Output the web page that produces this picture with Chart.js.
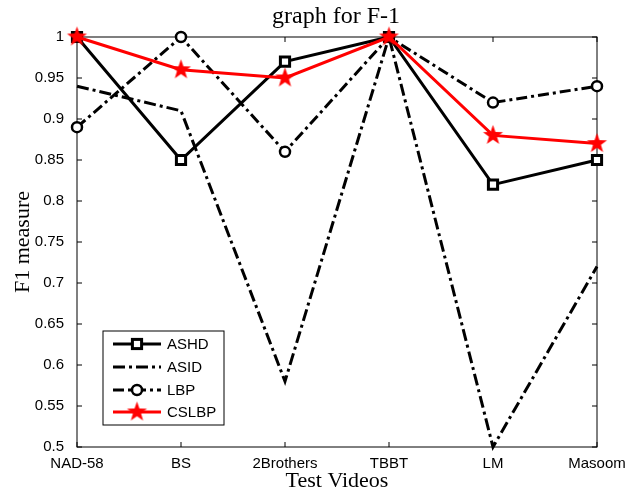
<!DOCTYPE html>
<html>
<head>
<meta charset="utf-8">
<title>graph for F-1</title>
<script src="https://cdn.jsdelivr.net/npm/chart.js@4.4.1/dist/chart.umd.min.js"></script>
<style>
  html, body { margin: 0; padding: 0; background: #fff; }
  #wrap { width: 644px; height: 494px; position: relative; }
</style>
</head>
<body>
<div id="wrap"><canvas id="f1chart"></canvas></div>
<script>
const videos = ['NAD-58', 'BS', '2Brothers', 'TBBT', 'LM', 'Masoom'];
const ashd  = [1.00, 0.85, 0.97, 1.00, 0.82, 0.85];
const asid  = [0.94, 0.91, 0.58, 1.00, 0.50, 0.72];
const lbp   = [0.89, 1.00, 0.86, 1.00, 0.92, 0.94];
const cslbp = [1.00, 0.96, 0.95, 1.00, 0.88, 0.87];
const yTicks = [0.5, 0.55, 0.6, 0.65, 0.7, 0.75, 0.8, 0.85, 0.9, 0.95, 1];

const serif = '"Liberation Serif", "Times New Roman", serif';
const sans = '"Liberation Sans", Arial, sans-serif';

// filled 5 point star, like matlab's pentagram marker
function makeStar(outer, color) {
  const inner = outer * 0.4;
  const size = Math.ceil(outer * 2 + 2);
  const c = document.createElement('canvas');
  c.width = c.height = size;
  const g = c.getContext('2d');
  g.translate(size / 2, size / 2);
  g.beginPath();
  for (let i = 0; i < 10; i++) {
    const r = i % 2 ? inner : outer;
    const a = -Math.PI / 2 + i * Math.PI / 5;
    g.lineTo(r * Math.cos(a), r * Math.sin(a));
  }
  g.closePath();
  g.fillStyle = color;
  g.fill();
  return c;
}
const star = makeStar(10.5, '#ff0000');

function drawMarker(ctx, ds, x, y) {
  if (ds.pointStyle === 'rect') {
    const h = Math.SQRT1_2 * ds.pointRadius;
    ctx.fillStyle = ds.pointBackgroundColor;
    ctx.strokeStyle = ds.pointBorderColor;
    ctx.lineWidth = ds.pointBorderWidth;
    ctx.setLineDash([]);
    ctx.fillRect(x - h, y - h, 2 * h, 2 * h);
    ctx.strokeRect(x - h, y - h, 2 * h, 2 * h);
  } else if (ds.pointStyle === 'circle' && ds.pointRadius > 0) {
    ctx.fillStyle = ds.pointBackgroundColor;
    ctx.strokeStyle = ds.pointBorderColor;
    ctx.lineWidth = ds.pointBorderWidth;
    ctx.setLineDash([]);
    ctx.beginPath();
    ctx.arc(x, y, ds.pointRadius, 0, Math.PI * 2);
    ctx.fill();
    ctx.stroke();
  } else if (ds.pointStyle instanceof HTMLCanvasElement) {
    ctx.drawImage(ds.pointStyle, x - ds.pointStyle.width / 2, y - ds.pointStyle.height / 2);
  }
}

const framePlugin = {
  id: 'frame',
  beforeDatasetsDraw(chart) {
    const { ctx, chartArea: a, scales: { x, y } } = chart;
    ctx.save();
    ctx.strokeStyle = '#000';
    ctx.lineWidth = 1;
    ctx.strokeRect(a.left, a.top, a.right - a.left, a.bottom - a.top);
    // inward tick marks on all four sides
    const tl = 5;
    ctx.beginPath();
    x.ticks.forEach((t, i) => {
      const px = x.getPixelForTick(i);
      ctx.moveTo(px, a.bottom); ctx.lineTo(px, a.bottom - tl);
      ctx.moveTo(px, a.top); ctx.lineTo(px, a.top + tl);
    });
    y.ticks.forEach(t => {
      const py = y.getPixelForValue(t.value);
      ctx.moveTo(a.left, py); ctx.lineTo(a.left + tl, py);
      ctx.moveTo(a.right, py); ctx.lineTo(a.right - tl, py);
    });
    ctx.stroke();
    ctx.restore();
  },
  afterDatasetsDraw(chart) {
    const ctx = chart.ctx;
    ctx.save();
    // title
    ctx.fillStyle = '#000';
    ctx.font = '24px ' + serif;
    ctx.textAlign = 'center';
    ctx.textBaseline = 'alphabetic';
    ctx.fillText('graph for F-1', 336, 23);

    // legend box, bottom left
    const bx = 103, by = 331, bw = 121, bh = 94;
    ctx.fillStyle = '#fff';
    ctx.fillRect(bx, by, bw, bh);
    ctx.strokeStyle = '#000';
    ctx.lineWidth = 1;
    ctx.strokeRect(bx, by, bw, bh);
    const rows = [344, 367, 390, 412];
    chart.data.datasets.forEach((ds, i) => {
      const ry = rows[i];
      ctx.strokeStyle = ds.borderColor;
      ctx.lineWidth = ds.borderWidth;
      ctx.setLineDash(ds.borderDash || []);
      ctx.beginPath();
      ctx.moveTo(113, ry);
      ctx.lineTo(161, ry);
      ctx.stroke();
      drawMarker(ctx, ds, 137, ry);
      ctx.setLineDash([]);
      ctx.fillStyle = '#000';
      ctx.font = '15px ' + sans;
      ctx.textAlign = 'left';
      ctx.textBaseline = 'middle';
      ctx.fillText(ds.label, 167, ry + 1);
    });
    ctx.restore();
  }
};

new Chart(document.getElementById('f1chart'), {
  type: 'line',
  data: {
    labels: videos,
    datasets: [
      {
        label: 'ASHD', data: ashd, order: 1,
        borderColor: '#000', borderWidth: 3,
        pointStyle: 'rect', pointRadius: 6.5, pointBorderWidth: 3,
        pointBorderColor: '#000', pointBackgroundColor: '#fff'
      },
      {
        label: 'ASID', data: asid, order: 3,
        borderColor: '#000', borderWidth: 3, borderDash: [12, 4, 3, 4],
        pointStyle: 'circle', pointRadius: 0
      },
      {
        label: 'LBP', data: lbp, order: 2,
        borderColor: '#000', borderWidth: 3, borderDash: [11, 4, 3, 4],
        pointStyle: 'circle', pointRadius: 5, pointBorderWidth: 2.5,
        pointBorderColor: '#000', pointBackgroundColor: '#fff'
      },
      {
        label: 'CSLBP', data: cslbp, order: 0,
        borderColor: '#ff0000', borderWidth: 3,
        pointStyle: star, pointRadius: 10
      }
    ]
  },
  options: {
    responsive: true,
    maintainAspectRatio: false,
    animation: false,
    events: [],
    clip: false,
    elements: { line: { tension: 0 } },
    layout: { padding: { top: 37, right: 47, left: 0, bottom: 0 } },
    plugins: {
      legend: { display: false },
      title: { display: false },
      tooltip: { enabled: false }
    },
    scales: {
      x: {
        offset: false,
        grid: { display: false },
        border: { display: false },
        ticks: { color: '#000', font: { family: sans, size: 15 }, padding: 0, maxRotation: 0, autoSkip: false },
        title: { display: true, text: 'Test Videos', color: '#000', font: { family: serif, size: 22 }, padding: { top: 0, bottom: 0 } },
        afterFit: s => { s.height = 47; }
      },
      y: {
        min: 0.5,
        max: 1,
        grid: { display: false },
        border: { display: false },
        afterBuildTicks: s => { s.ticks = yTicks.map(v => ({ value: v })); },
        ticks: {
          color: '#000', font: { family: sans, size: 15 }, padding: 5,
          callback: v => String(+v.toFixed(2))
        },
        title: { display: true, text: 'F1 measure', color: '#000', font: { family: serif, size: 22 }, padding: { top: 10, bottom: 0 } },
        afterFit: s => { s.width = 77; }
      }
    }
  },
  plugins: [framePlugin]
});
</script>
</body>
</html>
